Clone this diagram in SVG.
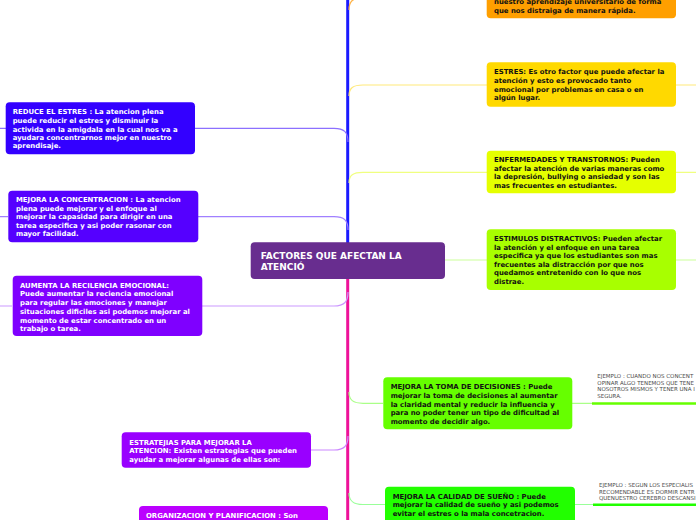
<svg xmlns="http://www.w3.org/2000/svg" width="696" height="520" viewBox="0 0 696 520">
<style>
.n{font-family:"DejaVu Sans","Liberation Sans",sans-serif;font-weight:bold;font-size:6.9px}
.w{fill:#ffffff}
.k{fill:#111111}
.c{fill:#ffffff;font-family:"DejaVu Sans","Liberation Sans",sans-serif;font-weight:bold;font-size:9px}
.ex{font-family:"DejaVu Sans","Liberation Sans",sans-serif;font-size:5.5px;fill:#4a4a4a}
.l{fill:none;stroke-width:1.2}
</style>
<rect width="696" height="520" fill="#ffffff"/>
<g id="connectors">
<line x1="347.7" y1="-2" x2="347.7" y2="243" stroke="#1a1aff" stroke-width="3"/>
<line x1="347.7" y1="279" x2="347.7" y2="522" stroke="#ee1199" stroke-width="3"/>
<path class="l" stroke="#ffb347" d="M349 10 C349 2,352 -2,362 -2 L487 -2"/>
<path class="l" stroke="#ffe97a" d="M349 96 C349 88,353 85,363 85 L487 85 M676 85 L696 85"/>
<path class="l" stroke="#f0ff80" d="M349 183 C349 175,353 172.3,363 172.3 L487 172.3 M676 172.3 L696 172.3"/>
<path class="l" stroke="#ccff99" d="M445 260 L487 260 M676 260 L696 260"/>
<path class="l" stroke="#8c70ff" d="M348 142 C348 132,344 128.3,334 128.3 L195 128.3 M6 128.3 L0 128.3"/>
<path class="l" stroke="#a080ff" d="M348 230 C348 220,344 216.7,334 216.7 L198 216.7 M8 216.7 L0 216.7"/>
<path class="l" stroke="#cc99ff" d="M348 292 C348 302,344 306,334 306 L202 306 M12 306 L0 306"/>
<path class="l" stroke="#cc88ff" d="M348 436 C348 446,344 450,334 450 L311 450"/>
<path class="l" stroke="#aaff88" d="M349 392 C349 400,353 403.3,363 403.3 L383 403.3 M572 403.3 L592 403.3"/>
<line x1="592" y1="403.5" x2="696" y2="403.5" stroke="#66ff00" stroke-width="2.5"/>
<path class="l" stroke="#99ff99" d="M349 493 C349 501,353 504.5,363 504.5 L385 504.5 M575 504.5 L593 504.5"/>
<line x1="593" y1="504.7" x2="696" y2="504.7" stroke="#22ff00" stroke-width="2.5"/>
</g>
<g id="center">
<rect x="250.7" y="242.3" width="194.3" height="36.7" rx="4" fill="#682d8f"/>
<text class="c" x="260.7" y="259">FACTORES QUE AFECTAN LA</text>
<text class="c" x="260.7" y="270">ATENCIÓ</text>
</g>
<g id="orange">
<rect x="486.7" y="-20" width="189.3" height="38.3" rx="4" fill="#ff9f00"/>
<text class="n k"><tspan x="494" y="4.4">nuestro aprendizaje universitario de forma</tspan><tspan x="494" y="13.3">que nos distraiga de manera rápida.</tspan></text>
</g>
<g id="estres">
<rect x="486.7" y="62.3" width="189.3" height="44.4" rx="4" fill="#ffd900"/>
<text class="n k"><tspan x="494" y="74.2">ESTRES: Es otro factor que puede afectar la</tspan><tspan x="494" y="82.5">atención y esto es provocado tanto</tspan><tspan x="494" y="91.8">emocional por problemas en casa o en</tspan><tspan x="494" y="100.2">algún lugar.</tspan></text>
</g>
<g id="enfermedades">
<rect x="486.7" y="150.7" width="189.3" height="42.6" rx="4" fill="#e5ff00"/>
<text class="n k"><tspan x="494" y="161.5">ENFERMEDADES Y TRANSTORNOS: Pueden</tspan><tspan x="494" y="170.8">afectar la atención de varias maneras como</tspan><tspan x="494" y="179.2">la depresión, bullying o ansiedad y son las</tspan><tspan x="494" y="188.2">mas frecuentes en estudiantes.</tspan></text>
</g>
<g id="estimulos">
<rect x="486.7" y="229.3" width="189.3" height="60.7" rx="4" fill="#a8ff00"/>
<text class="n k"><tspan x="494" y="240.8">ESTIMULOS DISTRACTIVOS: Pueden afectar</tspan><tspan x="494" y="250.2">la atención y el enfoque en una tarea</tspan><tspan x="494" y="257.8">especifica ya que los estudiantes son mas</tspan><tspan x="494" y="266.5">frecuentes ala distracción por que nos</tspan><tspan x="494" y="275.2">quedamos entretenido con lo que nos</tspan><tspan x="494" y="283.5">distrae.</tspan></text>
</g>
<g id="toma">
<rect x="383.3" y="377.3" width="189" height="52" rx="4" fill="#66ff00"/>
<text class="n k"><tspan x="390.7" y="388.5">MEJORA LA TOMA DE DECISIONES : Puede</tspan><tspan x="390.7" y="397.5">mejorar la toma de decisiones al aumentar</tspan><tspan x="390.7" y="406.5">la claridad mental y reducir la influencia y</tspan><tspan x="390.7" y="415.2">para no poder tener un tipo de dificultad al</tspan><tspan x="390.7" y="423.5">momento de decidir algo.</tspan></text>
</g>
<g id="ejemplo1">
<text class="ex"><tspan x="597.3" y="378">EJEMPLO : CUANDO NOS CONCENT</tspan><tspan x="597.3" y="384.6">OPINAR ALGO TENEMOS QUE TENE</tspan><tspan x="597.3" y="391.2">NOSOTROS MISMOS Y TENER UNA I</tspan><tspan x="597.3" y="397.8">SEGURA.</tspan></text>
</g>
<g id="calidad">
<rect x="385" y="486.7" width="190" height="45" rx="4" fill="#22ff00"/>
<text class="n k"><tspan x="392.7" y="498.5">MEJORA LA CALIDAD DE SUEÑO : Puede</tspan><tspan x="392.7" y="507.2">mejorar la calidad de sueño y asi podemos</tspan><tspan x="392.7" y="515.8">evitar el estres o la mala concetracion.</tspan></text>
</g>
<g id="ejemplo2">
<text class="ex"><tspan x="599" y="487">EJEMPLO : SEGUN LOS ESPECIALIS</tspan><tspan x="599" y="493.5">RECOMENDABLE ES DORMIR ENTR</tspan><tspan x="599" y="500">QUENUESTRO CEREBRO DESCANSI</tspan></text>
</g>
<g id="reduce">
<rect x="5.7" y="102.3" width="189.3" height="52" rx="4" fill="#3300ff"/>
<text class="n w"><tspan x="12.7" y="114.2">REDUCE EL ESTRES : La atencion plena</tspan><tspan x="12.7" y="122.8">puede reducir el estres y disminuir la</tspan><tspan x="12.7" y="131.5">activida en la amigdala en la cual nos va a</tspan><tspan x="12.7" y="139.8">ayudara concentrarnos mejor en nuestro</tspan><tspan x="12.7" y="148.2">aprendisaje.</tspan></text>
</g>
<g id="concentracion">
<rect x="8.3" y="190.7" width="190" height="51.6" rx="4" fill="#5500ff"/>
<text class="n w"><tspan x="16" y="201.8">MEJORA LA CONCENTRACION : La atencion</tspan><tspan x="16" y="210.8">plena puede mejorar y el enfoque al</tspan><tspan x="16" y="219.2">mejorar la capasidad para dirigir en una</tspan><tspan x="16" y="227.8">tarea especifica y asi poder rasonar con</tspan><tspan x="16" y="236.2">mayor facilidad.</tspan></text>
</g>
<g id="recilencia">
<rect x="12.7" y="275.7" width="189.6" height="60.3" rx="4" fill="#7f00ff"/>
<text class="n w"><tspan x="20" y="288.2">AUMENTA LA RECILENCIA EMOCIONAL:</tspan><tspan x="20" y="296.2">Puede aumentar la reciencia emocional</tspan><tspan x="20" y="305.2">para regular las emociones y manejar</tspan><tspan x="20" y="313.8">situaciones dificiles asi podemos mejorar al</tspan><tspan x="20" y="322.5">momento de estar concentrado en un</tspan><tspan x="20" y="330.8">trabajo o tarea.</tspan></text>
</g>
<g id="estratejias">
<rect x="121.7" y="432.3" width="189.3" height="35.4" rx="4" fill="#9900ff"/>
<text class="n w"><tspan x="129.3" y="444.5">ESTRATEJIAS PARA MEJORAR LA</tspan><tspan x="129.3" y="453.2">ATENCION: Existen estrategias que pueden</tspan><tspan x="129.3" y="461.5">ayudar a mejorar algunas de ellas son:</tspan></text>
</g>
<g id="organizacion">
<rect x="139" y="506" width="189" height="30" rx="4" fill="#bb00ff"/>
<text class="n w"><tspan x="146" y="518.2">ORGANIZACION Y PLANIFICACION : Son</tspan></text>
</g>
</svg>
